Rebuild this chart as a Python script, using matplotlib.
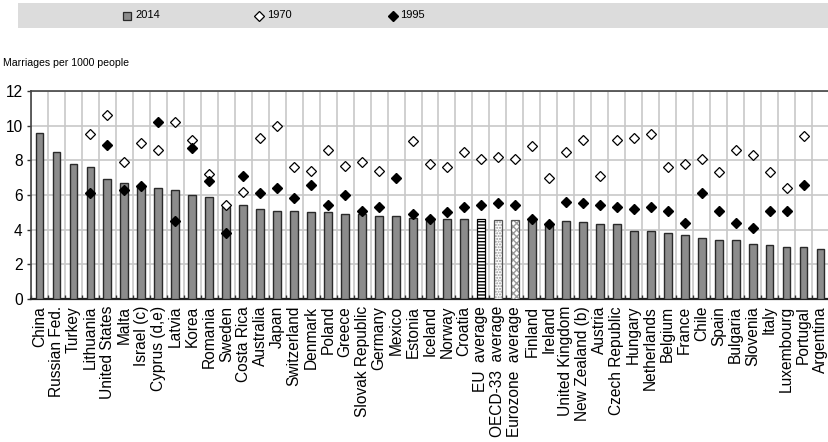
import numpy as np
import matplotlib
matplotlib.use("Agg")
import matplotlib.pyplot as plt
from matplotlib.patches import Rectangle
from matplotlib.lines import Line2D

countries = ["China", "Russian Fed.", "Turkey", "Lithuania", "United States", "Malta",
             "Israel (c)", "Cyprus (d,e)", "Latvia", "Korea", "Romania", "Sweden",
             "Costa Rica", "Australia", "Japan", "Switzerland", "Denmark", "Poland",
             "Greece", "Slovak Republic", "Germany", "Mexico", "Estonia", "Iceland",
             "Norway", "Croatia", "EU  average", "OECD-33  average", "Eurozone  average",
             "Finland", "Ireland", "United Kingdom", "New Zealand (b)", "Austria",
             "Czech Republic", "Hungary", "Netherlands", "Belgium", "France", "Chile",
             "Spain", "Bulgaria", "Slovenia", "Italy", "Luxembourg", "Portugal", "Argentina"]

nan = np.nan
marr_2014 = [9.6, 8.5, 7.8, 7.6, 6.9, 6.7, 6.5, 6.4, 6.3, 6.0, 5.9, 5.3,
             5.4, 5.2, 5.1, 5.1, 5.0, 5.0, 4.9, 4.9, 4.8, 4.8, 4.7, 4.65,
             4.6, 4.6, 4.6, 4.55, 4.55, 4.6, 4.3, 4.5, 4.45, 4.3,
             4.3, 3.9, 3.9, 3.8, 3.7, 3.5, 3.4, 3.4, 3.2, 3.1, 3.0, 3.0, 2.9]
marr_1970 = [nan, nan, nan, 9.5, 10.6, 7.9, 9.0, 8.6, 10.2, 9.2, 7.2, 5.4,
             6.2, 9.3, 10.0, 7.6, 7.4, 8.6, 7.7, 7.9, 7.4, nan, 9.1, 7.8,
             7.6, 8.5, 8.1, 8.2, 8.1, 8.8, 7.0, 8.5, 9.2, 7.1,
             9.2, 9.3, 9.5, 7.6, 7.8, 8.1, 7.3, 8.6, 8.3, 7.3, 6.4, 9.4, nan]
marr_1995 = [nan, nan, nan, 6.1, 8.9, 6.3, 6.5, 10.2, 4.5, 8.7, 6.8, 3.8,
             7.1, 6.1, 6.4, 5.8, 6.6, 5.4, 6.0, 5.1, 5.3, 7.0, 4.9, 4.6,
             5.0, 5.3, 5.4, 5.55, 5.45, 4.6, 4.3, 5.6, 5.55, 5.4,
             5.3, 5.2, 5.3, 5.1, 4.4, 6.1, 5.1, 4.4, 4.1, 5.1, 5.1, 6.6, nan]

averages = {"EU  average": ("-----", "black"),
            "OECD-33  average": ("......", "#9a9a9a"),
            "Eurozone  average": ("xxxxx", "#9a9a9a")}

plt.rcParams["font.family"] = ["Liberation Sans", "DejaVu Sans"]

W, H = 829, 442
fig = plt.figure(figsize=(W / 100, H / 100), dpi=100)
ax = fig.add_axes([31 / W, 1 - 299 / H, (829 - 31) / W, (299 - 91) / H])

x = np.arange(len(countries))
bar_w = 0.46
grey = "#8c8c8c"

for i, name in enumerate(countries):
    if name in averages:
        hatch, hcol = averages[name]
        ax.bar(x[i], marr_2014[i], width=bar_w, color="white", edgecolor=hcol,
               hatch=hatch, linewidth=0, zorder=3)
        ax.bar(x[i], marr_2014[i], width=bar_w, fill=False,
               edgecolor="black" if hcol == "black" else "#555555", linewidth=0.9, zorder=3)
    else:
        ax.bar(x[i], marr_2014[i], width=bar_w, color=grey, edgecolor="#2a2a2a",
               linewidth=1.0, zorder=3)

ax.plot(x, marr_1970, linestyle="none", marker="D", markersize=5.6,
        markerfacecolor="white", markeredgecolor="black", markeredgewidth=0.9, zorder=4)
ax.plot(x, marr_1995, linestyle="none", marker="D", markersize=5.6,
        markerfacecolor="black", markeredgecolor="black", zorder=5)

ax.set_xlim(-0.5, len(countries) - 0.5)
ax.set_ylim(0, 12)
ax.set_yticks(range(0, 13, 2))
ax.set_xticks(x)
ax.set_xticklabels(countries, rotation=90, fontsize=11.2)
ax.set_xticks(np.arange(len(countries) + 1) - 0.5, minor=True)
ax.tick_params(axis="x", which="major", length=0, pad=5)
ax.tick_params(axis="x", which="minor", direction="in", length=3, width=1, color="#333333")
ax.tick_params(axis="y", labelsize=11.2, length=3, width=1, color="#333333", pad=3)

ax.grid(axis="y", color="#c8c8c8", linewidth=1.2, zorder=0)
ax.grid(axis="x", which="minor", color="#c8c8c8", linewidth=1.2, zorder=0)
ax.set_axisbelow(True)
for side in ["left", "top"]:
    ax.spines[side].set_color("#444444")
    ax.spines[side].set_linewidth(1.2)
ax.spines["bottom"].set_color("#222222")
ax.spines["bottom"].set_linewidth(1.6)
ax.spines["right"].set_visible(False)

# legend band at the top
fig.add_artist(Rectangle((18 / W, 1 - 28 / H), (W - 18) / W, 25 / H,
                         transform=fig.transFigure, facecolor="#dcdcdc",
                         edgecolor="none"))
ly = 1 - 15.5 / H
fig.add_artist(Line2D([127 / W], [ly], transform=fig.transFigure, marker="s",
                      markersize=6, markerfacecolor=grey, markeredgecolor="#2a2a2a",
                      markeredgewidth=0.9))
fig.text(135 / W, ly, "2014", fontsize=8, va="center")
fig.add_artist(Line2D([259 / W], [ly], transform=fig.transFigure, marker="D",
                      markersize=5.6, markerfacecolor="white", markeredgecolor="black",
                      markeredgewidth=0.9))
fig.text(267 / W, ly, "1970", fontsize=8, va="center")
fig.add_artist(Line2D([393 / W], [ly], transform=fig.transFigure, marker="D",
                      markersize=5.6, markerfacecolor="black", markeredgecolor="black"))
fig.text(400 / W, ly, "1995", fontsize=8, va="center")

fig.text(3 / W, 1 - 63 / H, "Marriages per 1000 people", fontsize=7.6, va="center")

fig.savefig("out.png", dpi=100)
